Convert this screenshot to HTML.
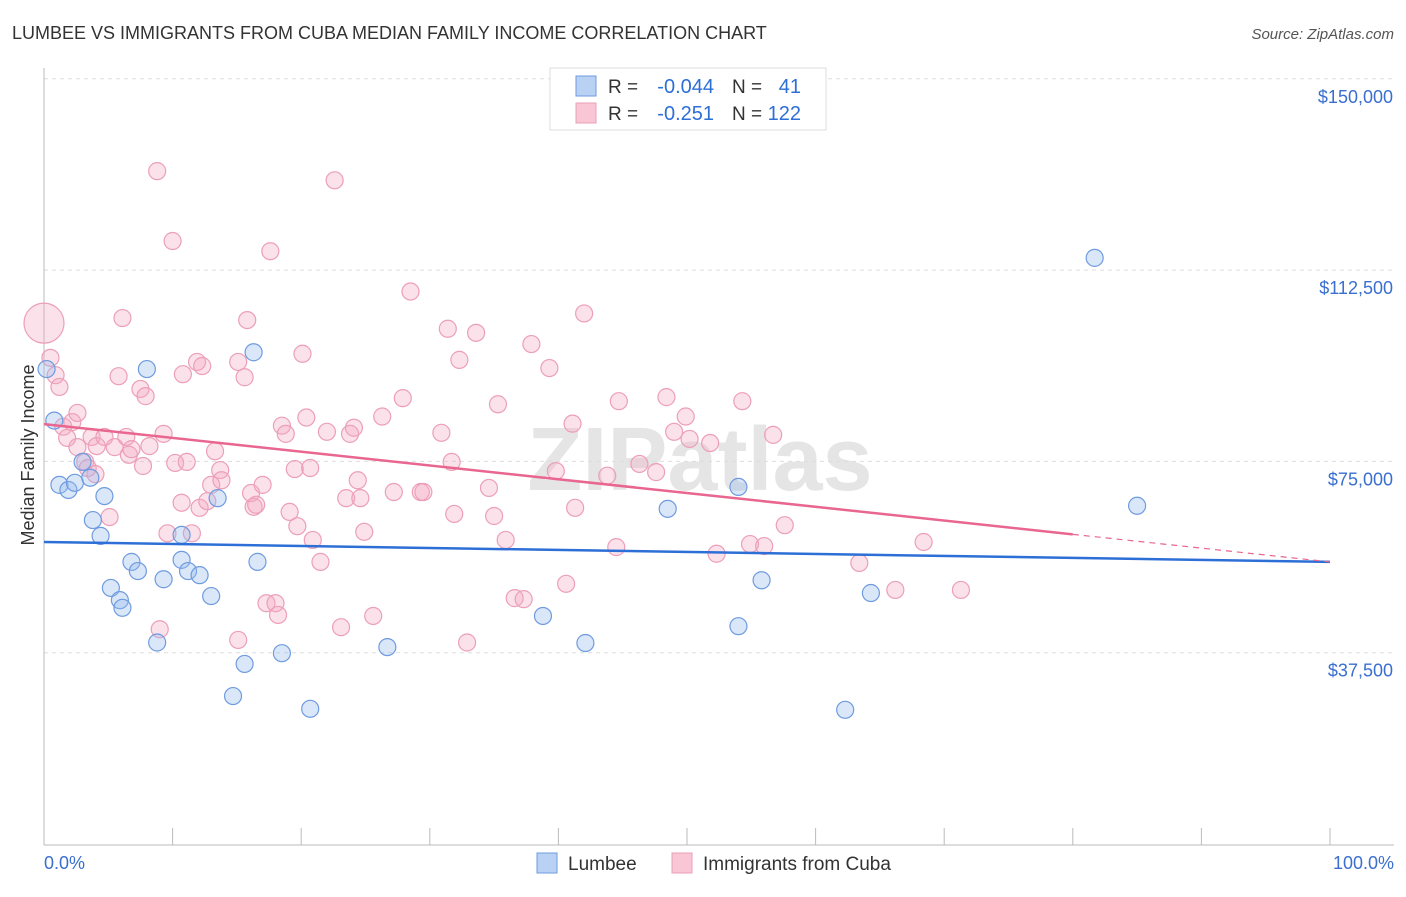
<!DOCTYPE html>
<html><head><meta charset="utf-8"><style>
body{margin:0;background:#fff;font-family:"Liberation Sans",sans-serif}
svg text{font-family:"Liberation Sans",sans-serif}
</style></head><body>
<svg id="c" width="1406" height="892"></svg>
<script>
const yTicks=[37500,75000,112500,150000];
const yTickLabels=["$37,500","$75,000","$112,500","$150,000"];
const lumbeeX=[0.2,0.8,1.2,1.9,2.4,3.0,3.6,3.8,4.4,4.7,5.2,5.9,6.1,6.8,7.3,8.0,8.8,9.3,10.7,10.7,11.2,12.1,13.0,13.5,14.7,15.6,16.3,16.6,18.5,20.7,26.7,38.8,42.1,48.5,54.0,54.0,55.8,62.3,64.3,81.7,85.0];
const lumbeeY=[93.1,83.0,70.4,69.4,70.8,74.9,71.8,63.5,60.4,68.2,50.2,47.8,46.3,55.3,53.5,93.1,39.5,51.9,55.7,60.6,53.5,52.7,48.6,67.8,29.0,35.3,96.4,55.3,37.4,26.5,38.6,44.7,39.4,65.7,70.0,42.7,51.7,26.3,49.2,114.9,66.3];
const cubaX=[0.0,0.5,0.9,1.2,1.5,1.8,2.2,2.6,2.6,3.2,3.4,3.7,4.0,4.1,4.7,5.1,5.5,5.8,6.1,6.4,6.6,6.8,7.5,7.7,7.9,8.2,8.8,9.0,9.3,9.6,10.0,10.2,10.7,10.8,11.1,11.5,11.9,12.1,12.3,12.7,13.0,13.3,13.7,13.8,15.1,15.1,15.6,15.8,16.1,16.3,16.5,17.0,17.6,17.3,18.0,18.2,18.5,18.8,19.1,19.5,19.7,20.1,20.4,20.7,20.9,21.5,22.0,22.6,23.1,23.5,23.8,24.1,24.4,24.6,24.9,25.6,26.3,27.2,27.9,28.5,29.3,29.5,30.9,31.4,31.7,31.9,32.3,32.9,33.6,34.6,35.3,35.0,35.9,36.6,37.3,37.9,39.3,39.8,40.6,41.1,41.3,42.0,43.8,44.5,44.7,46.3,47.6,48.4,49.0,49.9,50.2,51.8,52.3,54.3,54.9,56.0,56.7,57.6,63.4,66.2,68.4,71.3];
const cubaY=[102.1,95.3,91.9,89.6,81.8,79.6,82.7,77.8,84.5,74.9,73.7,79.8,72.5,78.0,79.8,64.1,77.8,91.7,103.1,79.8,76.3,77.4,89.2,74.1,87.8,78.0,131.9,42.1,80.4,60.9,118.2,74.7,66.9,92.1,74.9,60.9,94.5,65.9,93.7,67.2,70.4,77.0,73.3,71.3,40.0,94.5,91.5,102.7,68.8,66.1,66.5,70.4,116.2,47.2,47.2,44.9,82.0,80.4,65.1,73.5,62.3,96.1,83.6,73.7,59.6,55.3,80.8,130.1,42.5,67.8,80.4,81.6,71.3,67.8,61.2,44.7,83.8,69.0,87.4,108.3,69.0,69.0,80.6,101.0,74.9,64.7,94.9,39.5,100.2,69.8,86.2,64.3,59.6,48.2,48.0,98.0,93.3,73.1,51.0,82.4,65.9,104.0,72.2,58.2,86.8,74.5,72.9,87.6,80.8,83.8,79.4,78.6,56.9,86.8,58.8,58.4,80.2,62.5,55.1,49.8,59.2,49.8];
const lumbeeTrend=[59.2,55.3];
const cubaTrend=[82.3,55.3];
const NS="http://www.w3.org/2000/svg",svg=document.getElementById('c');
function yS(v){return 844-v*191.3/37500;}
function xS(v){return 44+v*12.86;}
function mk(t,a,p){const e=document.createElementNS(NS,t);for(const k in a)e.setAttribute(k,a[k]);(p||svg).appendChild(e);return e;}
let t=mk('text',{x:12,y:39,'font-size':18,fill:'#333'});t.textContent="LUMBEE VS IMMIGRANTS FROM CUBA MEDIAN FAMILY INCOME CORRELATION CHART";

t=mk('text',{x:1394,y:39,'font-size':15,fill:'#555','text-anchor':'end','font-style':'italic'});t.textContent="Source: ZipAtlas.com";

t=mk('text',{x:700,y:490,'font-size':90,fill:'#e5e5e5','text-anchor':'middle','font-weight':'bold'});t.textContent="ZIPatlas";

yTicks.forEach((v,i)=>{const l=mk('line',{x1:44,y1:yS(v),x2:1394,y2:yS(v),stroke:'#ddd','stroke-dasharray':'4,4'});

const tt=mk('text',{x:1393,y:yS(v)+24,'font-size':18,fill:'#3a6fd0','text-anchor':'end'});tt.textContent=yTickLabels[i];
});
mk('line',{x1:44,y1:68,x2:44,y2:845,stroke:'#bbb'});
mk('line',{x1:44,y1:845,x2:1394,y2:845,stroke:'#bbb'});
for(let i=0;i<=10;i++){mk('line',{x1:xS(i*10),y1:828,x2:xS(i*10),y2:845,stroke:'#bbb'});}
t=mk('text',{x:44,y:869,'font-size':18,fill:'#3a6fd0'});t.textContent="0.0%";
t=mk('text',{x:1394,y:869,'font-size':18,fill:'#3a6fd0','text-anchor':'end'});t.textContent="100.0%";
t=mk('text',{x:34,y:455,'font-size':18,fill:'#333','text-anchor':'middle',transform:'rotate(-90 34 455)'});t.textContent="Median Family Income";

cubaX.forEach((x,i)=>{const c=mk('circle',{cx:xS(x),cy:yS(cubaY[i]*1000),r:i==0?20:8.5,fill:'rgba(244,170,195,0.35)',stroke:'#ec9fb8','stroke-width':1.2});
});
lumbeeX.forEach((x,i)=>{const c=mk('circle',{cx:xS(x),cy:yS(lumbeeY[i]*1000),r:8.5,fill:'rgba(150,185,235,0.35)',stroke:'#6f9be0','stroke-width':1.2});
});
let l=mk('line',{x1:xS(0),y1:yS(lumbeeTrend[0]*1000),x2:xS(100),y2:yS(lumbeeTrend[1]*1000),stroke:'#2d6fd6','stroke-width':2.5});

const cy80=cubaTrend[0]+(cubaTrend[1]-cubaTrend[0])*0.8;
l=mk('line',{x1:xS(0),y1:yS(cubaTrend[0]*1000),x2:xS(80),y2:yS(cy80*1000),stroke:'#e8668f','stroke-width':2.5});

l=mk('line',{x1:xS(80),y1:yS(cy80*1000),x2:xS(100),y2:yS(cubaTrend[1]*1000),stroke:'#e8668f','stroke-width':1.2,'stroke-dasharray':'6,5'});

const g=mk('g',{});
mk('rect',{x:550,y:68,width:276,height:62,fill:'#fff',stroke:'#ddd'},g);
[[86,'#b9d1f3','#6f9be0','-0.044','41'],[113,'#f8c6d5','#ec9fb8','-0.251','122']].forEach(r=>{
mk('rect',{x:576,y:r[0]-10,width:20,height:20,fill:r[1],stroke:r[2]},g);
let a=mk('text',{x:608,y:r[0]+7,'font-size':19,fill:'#333'},g);a.textContent="R =";
a=mk('text',{x:714,y:r[0]+7,'font-size':20,fill:'#2d6fd6','text-anchor':'end'},g);a.textContent=r[3];
a=mk('text',{x:732,y:r[0]+7,'font-size':19,fill:'#333'},g);a.textContent="N =";
a=mk('text',{x:801,y:r[0]+7,'font-size':20,fill:'#2d6fd6','text-anchor':'end'},g);a.textContent=r[4];});
[[537,'#b9d1f3','#6f9be0','Lumbee'],[672,'#f8c6d5','#ec9fb8','Immigrants from Cuba']].forEach(r=>{
const e=mk('rect',{x:r[0],y:853,width:20,height:20,fill:r[1],stroke:r[2]});
const tx=mk('text',{x:r[0]+31,y:870,'font-size':19,fill:'#333'});tx.textContent=r[3];});
</script>
</body></html>
